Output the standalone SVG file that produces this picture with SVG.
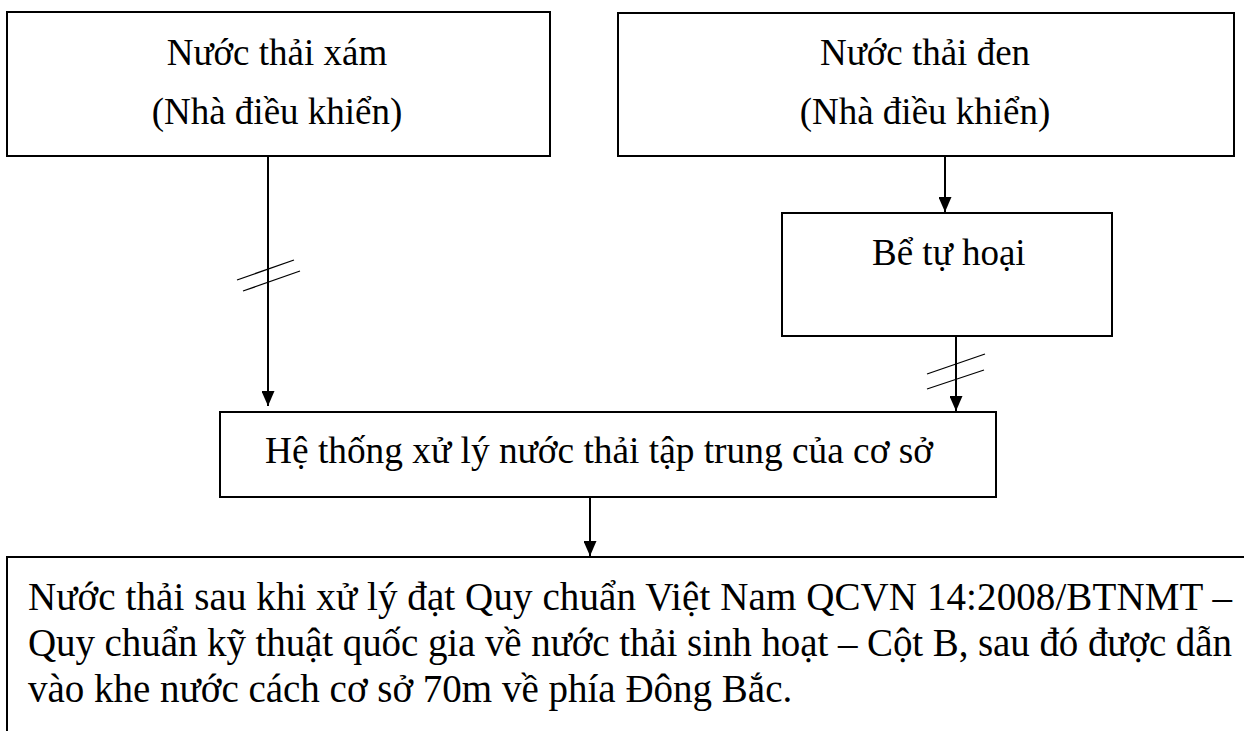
<svg xmlns="http://www.w3.org/2000/svg" width="1244" height="731" viewBox="0 0 1244 731">
<style>
.box{fill:#fff;stroke:#000;stroke-width:2}
.t{font-family:"Liberation Serif","Times New Roman",serif;font-size:37px;fill:#000}
.b{font-size:39px}
.c{text-anchor:middle}
.ln{stroke:#000;stroke-width:2;fill:none}
.hs{stroke:#000;stroke-width:1.3;fill:none}
</style>
<defs>
<marker id="ah" viewBox="0 0 15 13" refX="15" refY="6.5" markerWidth="15" markerHeight="13" markerUnits="userSpaceOnUse" orient="auto">
<path d="M0,0 L15,6.5 L0,13 Z" fill="#000"/>
</marker>
</defs>
<g id="n1"><rect class="box" x="7" y="12" width="543" height="144"/>
<text class="t c" x="277" y="65">Nước thải xám</text>
<text class="t c" x="277" y="124">(Nhà điều khiển)</text></g>
<g id="n2"><rect class="box" x="618" y="13" width="616" height="143"/>
<text class="t c" x="925" y="65">Nước thải đen</text>
<text class="t c" x="925" y="124">(Nhà điều khiển)</text></g>
<g id="n3"><rect class="box" x="782" y="213" width="330" height="123"/>
<text class="t" x="872" y="265">Bể tự hoại</text></g>
<g id="n4"><rect class="box" x="220" y="412" width="776" height="85"/>
<text class="t" x="265" y="463" textLength="668" lengthAdjust="spacingAndGlyphs">Hệ thống xử lý nước thải tập trung của cơ sở</text></g>
<g id="n5"><rect class="box" x="7" y="557" width="1260" height="200"/>
<text class="t b" x="28" y="610" textLength="1204" lengthAdjust="spacing">Nước thải sau khi xử lý đạt Quy chuẩn Việt Nam QCVN 14:2008/BTNMT –</text>
<text class="t b" x="28" y="656" textLength="1204" lengthAdjust="spacing">Quy chuẩn kỹ thuật quốc gia về nước thải sinh hoạt – Cột B, sau đó được dẫn</text>
<text class="t b" x="28" y="702">vào khe nước cách cơ sở 70m về phía Đông Bắc.</text></g>
<g id="connectors">
<line class="ln" x1="268" y1="156" x2="268" y2="406" marker-end="url(#ah)"/>
<line class="hs" x1="237" y1="280" x2="294" y2="260"/>
<line class="hs" x1="243" y1="291" x2="300" y2="271"/>
<line class="ln" x1="945" y1="156" x2="945" y2="212" marker-end="url(#ah)"/>
<line class="ln" x1="956" y1="336" x2="956" y2="411" marker-end="url(#ah)"/>
<line class="hs" x1="927" y1="374" x2="985" y2="354"/>
<line class="hs" x1="927" y1="389" x2="984" y2="370"/>
<line class="ln" x1="590" y1="497" x2="590" y2="556" marker-end="url(#ah)"/>
</g>
</svg>
